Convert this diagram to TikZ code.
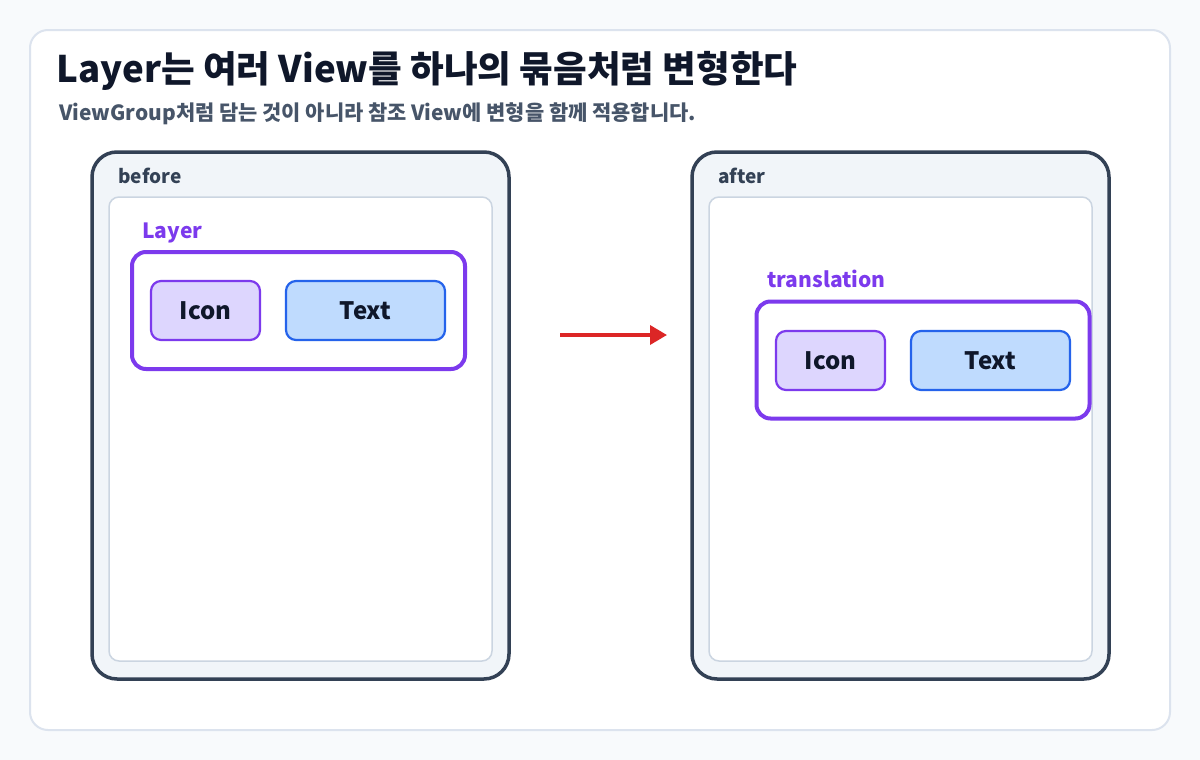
\documentclass[tikz,border=0pt]{standalone}
\usepackage{fontspec}
\setmainfont{Noto Sans CJK KR}
\usetikzlibrary{arrows.meta}
\definecolor{pageback}{HTML}{F8FAFC}
\definecolor{cardline}{HTML}{DCE3EE}
\definecolor{titleink}{HTML}{0F172A}
\definecolor{subink}{HTML}{475569}
\definecolor{panelline}{HTML}{334155}
\definecolor{panelfill}{HTML}{F1F5F9}
\definecolor{innerline}{HTML}{CBD5E1}
\definecolor{layerpurple}{HTML}{7C3AED}
\definecolor{iconfill}{HTML}{DDD6FE}
\definecolor{textfill}{HTML}{BFDBFE}
\definecolor{textblue}{HTML}{2563EB}
\definecolor{moved}{HTML}{DC2626}

\begin{document}
\begin{tikzpicture}[
  x=0.5pt,
  y=-0.5pt,
  every node/.style={font=\bfseries, inner sep=0pt},
  panel/.style={draw=panelline, fill=panelfill, line width=1.75pt, rounded corners=12.5pt,
    minimum width=208.5pt, minimum height=263.5pt},
  innerframe/.style={draw=innerline, fill=white, line width=0.75pt, rounded corners=5pt,
    minimum width=191.5pt, minimum height=232pt},
  layerbox/.style={draw=layerpurple, fill=white, line width=2pt, rounded corners=7pt,
    minimum width=166.5pt, minimum height=58.5pt},
  iconbox/.style={draw=layerpurple, fill=iconfill, line width=1.1pt, rounded corners=5pt,
    minimum width=54.5pt, minimum height=29.5pt, text=titleink, font=\bfseries\fontsize{12}{14}\selectfont},
  textbox/.style={draw=textblue, fill=textfill, line width=1.1pt, rounded corners=5pt,
    minimum width=79.5pt, minimum height=29.5pt, text=titleink, font=\bfseries\fontsize{12}{14}\selectfont},
  paneltag/.style={anchor=base west, text=panelline, font=\bfseries\fontsize{9.5}{11}\selectfont},
  layertag/.style={anchor=base west, text=layerpurple, font=\bfseries\fontsize{10.5}{13}\selectfont}
]
  \useasboundingbox (0,0) rectangle (1200,760);
  \fill[pageback] (0,0) rectangle (1200,760);
  \draw[cardline, fill=white, line width=1pt, rounded corners=9pt] (30,30) rectangle (1170,730);

  \node[anchor=base west, text=titleink, font=\bfseries\fontsize{18.3}{21}\selectfont] (title) at (56,83)
    {Layer는 여러 View를 하나의 묶음처럼 변형한다};
  \node[anchor=base west, text=subink, font=\bfseries\fontsize{10.45}{12}\selectfont] (subtitle) at (59,120)
    {ViewGroup처럼 담는 것이 아니라 참조 View에 변형을 함께 적용합니다.};

  % before
  \node[panel] (beforepanel) at (300.5,415.5) {};
  \node[paneltag] (beforetag) at (118,183) {before};
  \node[innerframe] (beforeinner) at (300.5,429) {};
  \node[layertag] (layertag) at (142,238) {Layer};
  \node[layerbox] (beforelayer) at (298.5,310.5) {};
  \node[iconbox] (beforeicon) at (205.5,310.5) {Icon};
  \node[textbox] (beforetext) at (365.5,310.5) {Text};

  % arrow
  \coordinate (arrowstart) at (560,335);
  \coordinate (arrowend) at (667,335);
  \draw[moved, line width=1.75pt, -{Triangle[length=8.5pt,width=9.5pt]}] (arrowstart) -- (arrowend);

  % after
  \node[panel] (afterpanel) at (900.5,415.5) {};
  \node[paneltag] (aftertag) at (718,183) {after};
  \node[innerframe] (afterinner) at (900.5,429) {};
  \node[layertag] (movetag) at (767,287) {translation};
  \node[layerbox] (afterlayer) at (923,360) {};
  \node[iconbox] (aftericon) at (830.5,360.5) {Icon};
  \node[textbox] (aftertext) at (990.5,360.5) {Text};
\end{tikzpicture}
\end{document}
